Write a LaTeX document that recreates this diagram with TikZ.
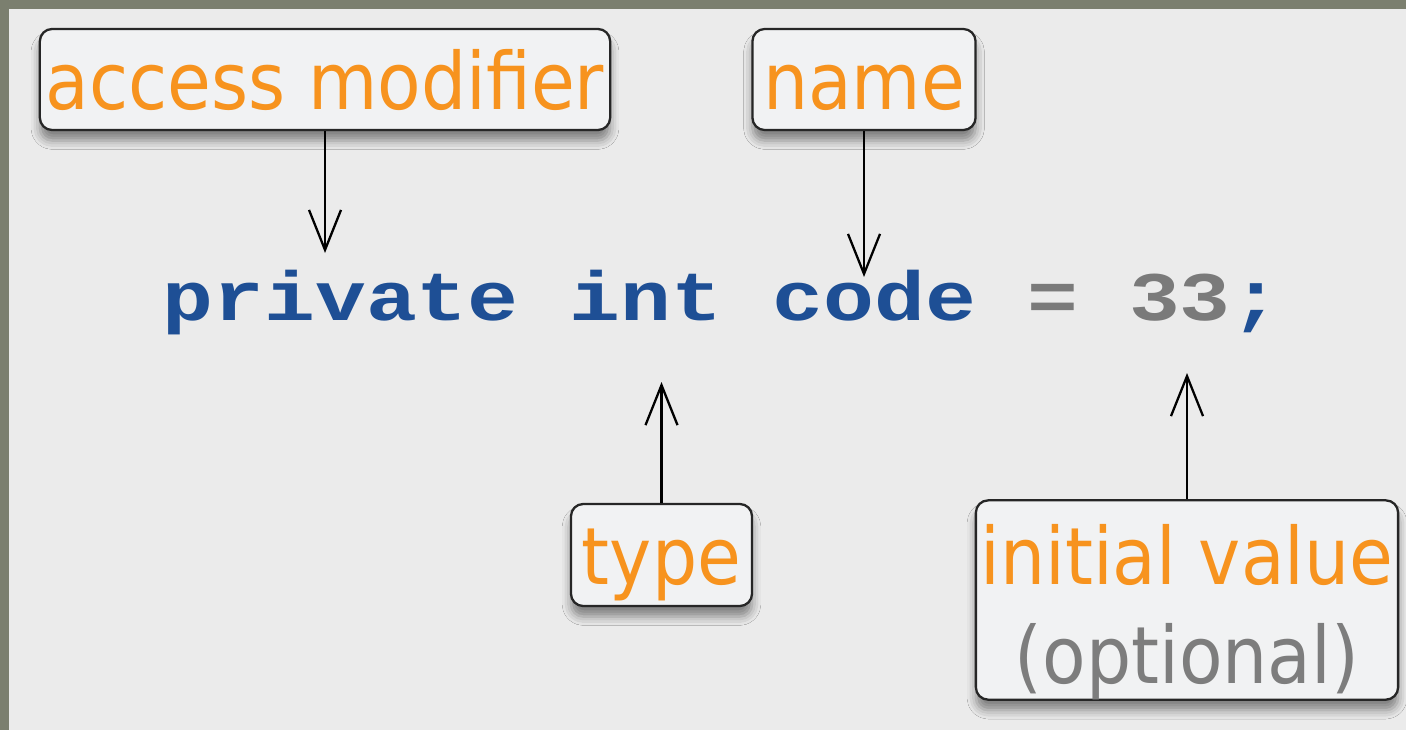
\documentclass[tikz,border=0pt]{standalone}
\usepackage{fontspec}
\usetikzlibrary{arrows.meta,shadows.blur}
\newfontfamily\condsans{DejaVu Sans Condensed}
\newfontfamily\codemono{Liberation Mono}
\newcommand{\labelfont}{\condsans\fontsize{22.5pt}{28pt}\selectfont}
\newcommand{\codefont}{\codemono\bfseries\fontsize{24.1pt}{28pt}\selectfont}
\definecolor{frameolive}{HTML}{7B7F6F}
\definecolor{slidegray}{HTML}{EBEBEB}
\definecolor{boxfill}{HTML}{F1F2F3}
\definecolor{labelorange}{HTML}{F7931E}
\definecolor{codeblue}{HTML}{1E4F95}
\definecolor{codegray}{HTML}{7A7A7A}
\definecolor{optgray}{HTML}{7D7D7D}
\tikzset{
  callout/.style={draw=black!85, line width=0.65pt, rounded corners=3.5pt, fill=boxfill,
    inner sep=0pt, font=\labelfont, text=labelorange,
    blur shadow={shadow xshift=0pt, shadow yshift=-3pt, shadow blur radius=2.5pt, shadow opacity=45}},
  tag/.style={callout, text height=17pt, text depth=0pt},
  pointer/.style={-{Straight Barb[length=4mm,width=3.2mm]}, line width=0.65pt},
}
\begin{document}
\begin{tikzpicture}[x=0.01cm,y=-0.01cm]
\fill[frameolive] (0,0) rectangle (1406,730);
\fill[slidegray] (9,9) rectangle (1406,730);
\useasboundingbox (0,0) rectangle (1406,730);
\node[anchor=base west, font=\codefont, inner sep=0pt] (code) at (162,320) {\scalebox{1}[0.82]{\textcolor{codeblue}{private int code }\textcolor{codegray}{= 33}\textcolor{codeblue}{;}}};
\node[tag, minimum width=5.7cm, minimum height=1.01cm] (access) at (325,79.5) {access modifier};
\node[tag, minimum width=2.23cm, minimum height=1.01cm] (name) at (864,79.5) {name};
\node[tag, minimum width=1.81cm, minimum height=1.02cm] (type) at (661.5,555) {type};
\node[callout, minimum width=4.22cm, minimum height=1.94cm, align=center] (init) at (1187,600) {\rule{0pt}{24pt}initial value\\\textcolor{optgray}{(optional)}};
\coordinate (accesstip) at (325,253);
\coordinate (nametip) at (864,277);
\coordinate (typetip) at (661.5,382);
\coordinate (inittip) at (1187,373);
\draw[pointer] (access.south) -- (accesstip);
\draw[pointer] (name.south) -- (nametip);
\draw[pointer] (type.north) -- (typetip);
\draw[pointer] (init.north) -- (inittip);
\end{tikzpicture}
\end{document}
